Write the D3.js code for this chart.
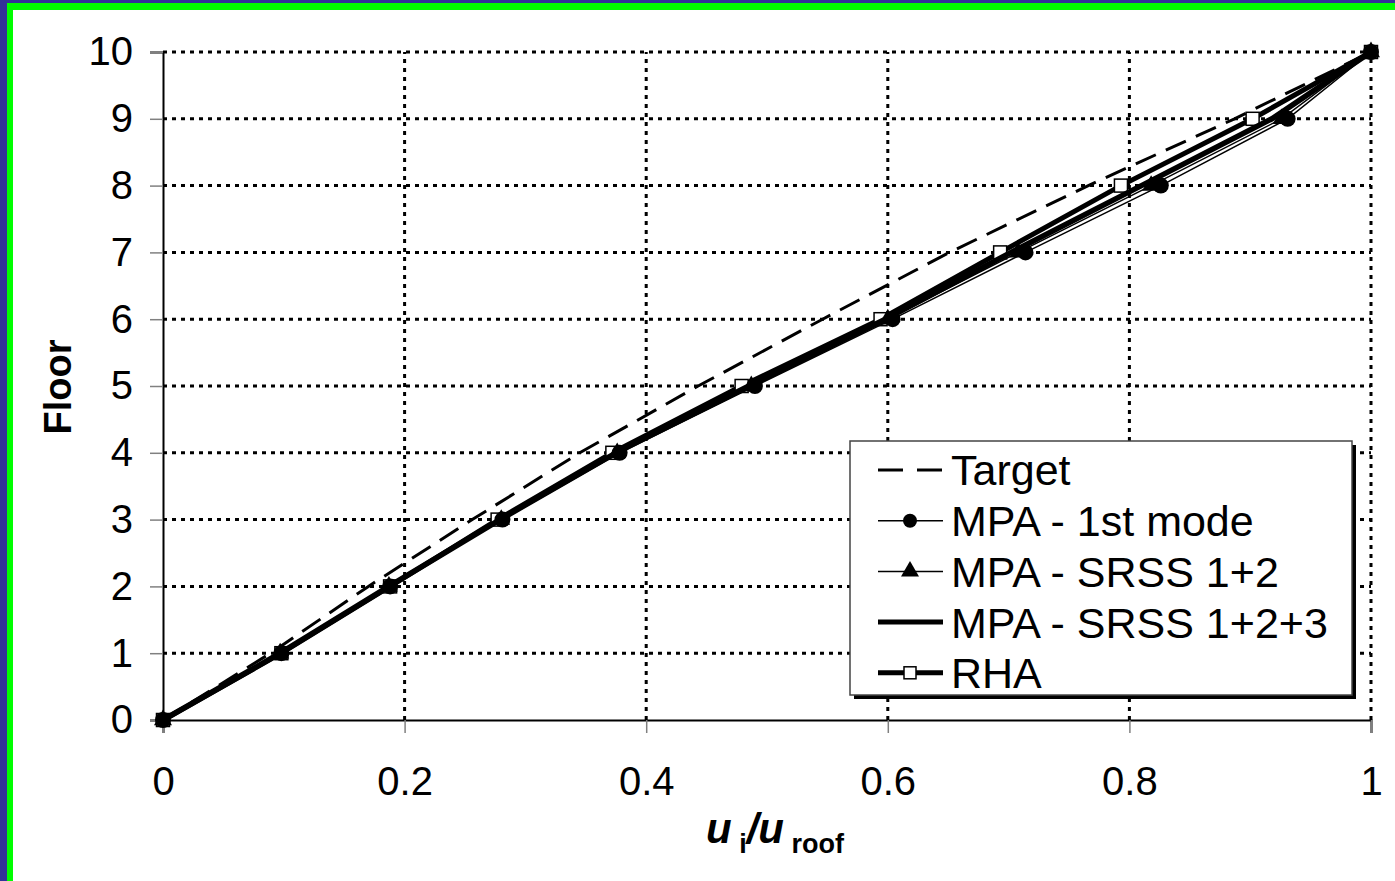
<!DOCTYPE html>
<html>
<head>
<meta charset="utf-8">
<script src="https://cdn.jsdelivr.net/npm/d3@7"></script>
<style>
  html, body { margin: 0; padding: 0; background: #fff; }
  svg { display: block; }
  text { font-family: Arial, "Liberation Sans", Helvetica, sans-serif; fill: #000; }
</style>
</head>
<body>
<svg id="chart" width="1395" height="881"></svg>
<script>
// Floor levels and normalised displacement profiles u_i / u_roof
const floors = [0, 1, 2, 3, 4, 5, 6, 7, 8, 9, 10];
const target   = [0, 0.089, 0.170, 0.256, 0.345, 0.443, 0.546, 0.651, 0.766, 0.887, 1];
const mpa1     = [0, 0.098, 0.188, 0.281, 0.378, 0.490, 0.604, 0.714, 0.826, 0.931, 1];
const srss12   = [0, 0.097, 0.187, 0.280, 0.376, 0.487, 0.600, 0.708, 0.818, 0.926, 1];
const srss123  = [0, 0.097, 0.187, 0.279, 0.375, 0.485, 0.598, 0.702, 0.810, 0.918, 1];
const rha      = [0, 0.098, 0.188, 0.277, 0.372, 0.479, 0.594, 0.693, 0.793, 0.902, 1];

const xTicks = [0, 0.2, 0.4, 0.6, 0.8, 1];
const yTicks = [0, 1, 2, 3, 4, 5, 6, 7, 8, 9, 10];
const legendLabels = ["Target", "MPA - 1st mode", "MPA - SRSS 1+2", "MPA - SRSS 1+2+3", "RHA"];

const svg = d3.select("#chart");

// frame strips along the top and left edges
svg.append("rect").attr("x", 0).attr("y", 0).attr("width", 1395).attr("height", 881).attr("fill", "#fff");
svg.append("rect").attr("x", 0).attr("y", 0).attr("width", 1395).attr("height", 10).attr("fill", "#00ff00");
svg.append("rect").attr("x", 0).attr("y", 0).attr("width", 13).attr("height", 881).attr("fill", "#00ff00");
svg.append("rect").attr("x", 0).attr("y", 0).attr("width", 1395).attr("height", 3).attr("fill", "#333399");
svg.append("rect").attr("x", 0).attr("y", 0).attr("width", 7).attr("height", 881).attr("fill", "#333399");

const x = d3.scaleLinear().domain([0, 1]).range([163, 1371]);
const y = d3.scaleLinear().domain([0, 10]).range([720, 52]);

// dotted grid
const grid = svg.append("g");
grid.selectAll("line.h").data(yTicks.filter(d => d > 0)).join("line")
  .attr("x1", x(0)).attr("x2", x(1))
  .attr("y1", d => y(d)).attr("y2", d => y(d))
  .attr("stroke", "#000").attr("stroke-width", 3).attr("stroke-dasharray", "4,5");
grid.selectAll("line.v").data(xTicks.filter(d => d > 0)).join("line")
  .attr("x1", d => x(d)).attr("x2", d => x(d))
  .attr("y1", y(0)).attr("y2", y(10))
  .attr("stroke", "#000").attr("stroke-width", 3).attr("stroke-dasharray", "4,5");

// axes
const yAxis = svg.append("g").attr("transform", `translate(${x(0)},0)`)
  .call(d3.axisLeft(y).tickValues(yTicks).tickSize(13).tickPadding(17).tickFormat(d3.format("d")));
const xAxis = svg.append("g").attr("transform", `translate(0,${y(0)})`)
  .call(d3.axisBottom(x).tickValues(xTicks).tickSize(13).tickPadding(34).tickFormat(d => d === 0 || d === 1 ? String(d) : d3.format(".1f")(d)));
[yAxis, xAxis].forEach(a => {
  a.select(".domain").attr("stroke", "#000").attr("stroke-width", 2);
  a.selectAll(".tick line").attr("stroke", "#808080").attr("stroke-width", 1.5);
  a.selectAll(".tick text").attr("font-size", 40).attr("font-family", "Arial, 'Liberation Sans', sans-serif").attr("fill", "#000");
});
xAxis.selectAll(".tick text").attr("dy", "0.71em");

// axis titles
svg.append("text")
  .attr("transform", "translate(71,387) rotate(-90)")
  .attr("text-anchor", "middle").attr("font-size", 38).attr("font-weight", "bold").text("Floor");

const xt = svg.append("text").attr("x", 775).attr("y", 843).attr("text-anchor", "middle").attr("font-weight", "bold");
xt.append("tspan").attr("font-size", 42).attr("font-style", "italic").text("u");
xt.append("tspan").attr("font-size", 27).attr("dy", 10).text(" i");
xt.append("tspan").attr("font-size", 42).attr("font-style", "italic").attr("dy", -10).text("/u");
xt.append("tspan").attr("font-size", 27).attr("dy", 10).text(" roof");

// series
const line = d3.line().x(d => x(d[0])).y(d => y(d[1]));
const pts = vals => vals.map((v, i) => [v, floors[i]]);

const tri = d3.symbol().type(d3.symbolTriangle).size(140);

svg.append("path").datum(pts(target)).attr("d", line)
  .attr("fill", "none").attr("stroke", "#000").attr("stroke-width", 3).attr("stroke-dasharray", "22,11");

svg.append("path").datum(pts(rha)).attr("d", line)
  .attr("fill", "none").attr("stroke", "#000").attr("stroke-width", 5);
svg.append("g").selectAll("rect").data(pts(rha)).join("rect")
  .attr("x", d => x(d[0]) - 6.5).attr("y", d => y(d[1]) - 6.5)
  .attr("width", 13).attr("height", 13)
  .attr("fill", "#fff").attr("stroke", "#000").attr("stroke-width", 1.5);

svg.append("path").datum(pts(srss123)).attr("d", line)
  .attr("fill", "none").attr("stroke", "#000").attr("stroke-width", 5.5);

svg.append("path").datum(pts(srss12)).attr("d", line)
  .attr("fill", "none").attr("stroke", "#000").attr("stroke-width", 1.5);
svg.append("g").selectAll("path").data(pts(srss12)).join("path")
  .attr("d", tri).attr("transform", d => `translate(${x(d[0])},${y(d[1])})`).attr("fill", "#000");

svg.append("path").datum(pts(mpa1)).attr("d", line)
  .attr("fill", "none").attr("stroke", "#000").attr("stroke-width", 1.5);
svg.append("g").selectAll("circle").data(pts(mpa1)).join("circle")
  .attr("cx", d => x(d[0])).attr("cy", d => y(d[1])).attr("r", 8).attr("fill", "#000");

// legend
const lg = svg.append("g");
lg.append("rect").attr("x", 854).attr("y", 445).attr("width", 502).attr("height", 254).attr("fill", "#000");
lg.append("rect").attr("x", 850).attr("y", 441).attr("width", 502).attr("height", 254)
  .attr("fill", "#fff").attr("stroke", "#444").attr("stroke-width", 1.5);

const rowY = i => 470 + i * 50.7;
legendLabels.forEach((lab, i) => {
  const cy = rowY(i);
  const l = lg.append("line").attr("x1", 878).attr("x2", 943).attr("y1", cy).attr("y2", cy).attr("stroke", "#000");
  if (i === 0) l.attr("stroke-width", 3).attr("stroke-dasharray", "25,14");
  else if (i === 1 || i === 2) l.attr("stroke-width", 1.5);
  else l.attr("stroke-width", 5);
  if (i === 1) lg.append("circle").attr("cx", 910).attr("cy", cy).attr("r", 7).attr("fill", "#000");
  if (i === 2) lg.append("path").attr("d", tri).attr("transform", `translate(910,${cy})`).attr("fill", "#000");
  if (i === 4) lg.append("rect").attr("x", 904).attr("y", cy - 6).attr("width", 12).attr("height", 12)
    .attr("fill", "#fff").attr("stroke", "#000").attr("stroke-width", 1.5);
  lg.append("text").attr("x", 951).attr("y", cy).attr("dy", "0.36em").attr("font-size", 43).text(lab);
});
</script>
</body>
</html>
